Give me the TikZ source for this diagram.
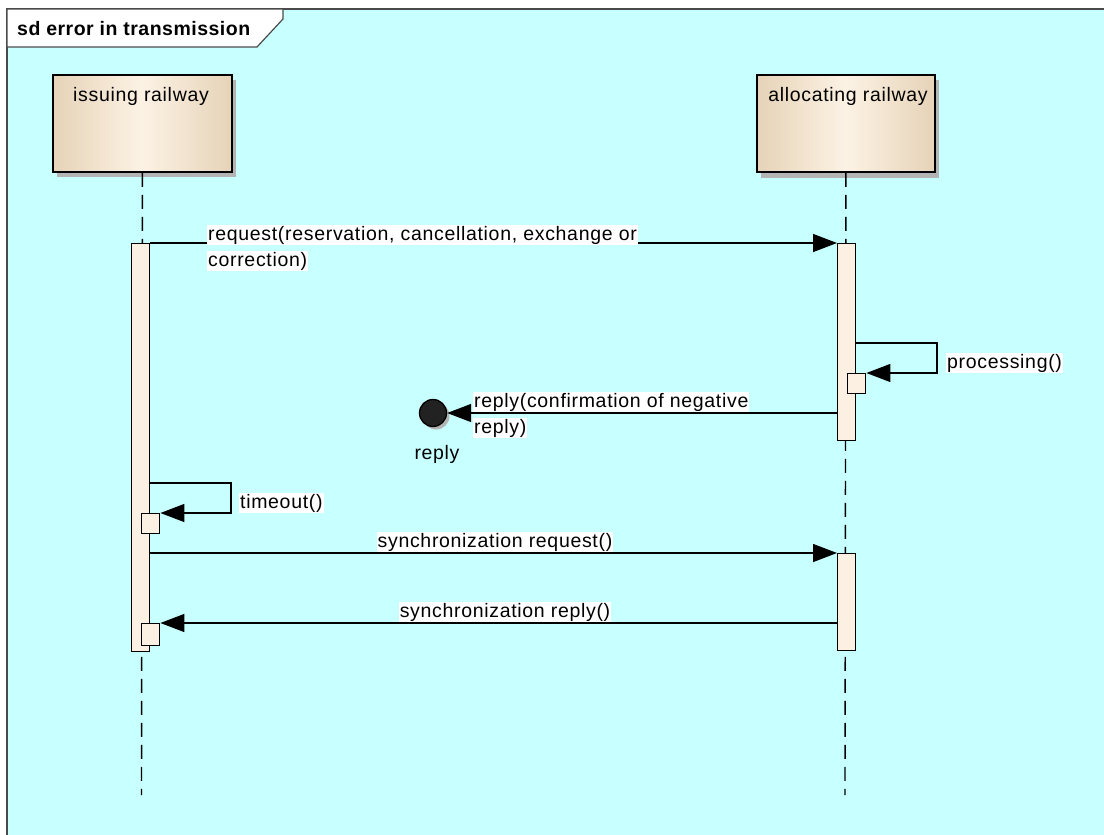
\documentclass[tikz,border=0pt]{standalone}
\usepackage{fontspec}
\setmainfont{Liberation Sans}[LetterSpace=3.5]
\newfontfamily\titlefont{Liberation Sans}[LetterSpace=2.5]
\usetikzlibrary{arrows.meta}
\definecolor{bg}{HTML}{C8FFFF}
\definecolor{frm}{HTML}{4A4A4A}
\definecolor{boxedge}{HTML}{E6D3B8}
\definecolor{boxmid}{HTML}{FCF2E4}
\definecolor{act}{HTML}{FCF0E2}
\definecolor{shd}{HTML}{B4B4B4}
\definecolor{dot}{HTML}{222222}
\begin{document}
\begin{tikzpicture}[x=1pt,y=-1pt,
  txt/.style={font=\fontsize{19.5}{24}\selectfont, inner sep=1pt},
  lbl/.style={txt, fill=white, anchor=base west},
  actbar/.style={draw=black, line width=1.4pt, fill=act, rectangle, inner sep=0pt, anchor=north west},
  msg/.style={line width=1.4pt, -{Triangle[length=24pt,width=18pt]}},
  lifeline/.style={line width=1.4pt, dash pattern=on 14pt off 8pt},
  header/.style={draw=black, line width=1.8pt, left color=boxedge, right color=boxedge, middle color=boxmid, inner sep=0pt, minimum height=97pt, anchor=north west}
]
\useasboundingbox (0,0) rectangle (1104,835);
\fill[white] (0,0) rectangle (1104,835);
\fill[bg] (7,9) rectangle (1104,835);
\draw[frm, line width=1.5pt] (7,840) -- (7,9) -- (1110,9);
% title tab
\draw[frm, line width=1.2pt, fill=white] (7,9) -- (283,9) -- (283,19) -- (257,47) -- (7,47) -- cycle;
\node[font=\fontsize{19.5}{24}\titlefont\bfseries, inner sep=0pt, anchor=base west] (title) at (17,35) {sd error in transmission};

% shadows of the lifeline heads
\fill[shd] (57,80) rectangle (236,177);
\fill[shd] (761,80) rectangle (939,178);
% lifeline heads
\node[header, minimum width=179pt] (iss) at (52,74) {};
\node[header, minimum width=178pt] (all) at (756,74) {};
\node[txt] (issT) at (141,96) {issuing railway};
\node[txt] (allT) at (848,96) {allocating railway};

% lifelines
\coordinate (issEnd) at (141.5,795);
\coordinate (allEnd) at (845,795);
\draw[lifeline] (iss.south) -- (issEnd);
\draw[lifeline] (all.south) -- (allEnd);

% activation bars
\node[actbar, minimum width=18pt, minimum height=408pt] (issA) at (131,243) {};
\node[actbar, minimum width=18pt, minimum height=197pt] (allA) at (837,243) {};
\node[actbar, minimum width=18pt, minimum height=97pt] (allB) at (837,553) {};
\node[actbar, minimum width=18pt, minimum height=20pt] (procB) at (847,373) {};
\node[actbar, minimum width=18pt, minimum height=20pt] (toB) at (141,513) {};
\node[actbar, minimum width=18pt, minimum height=22pt] (srB) at (141,623) {};

% lost message end point
\fill[shd] (436,416) circle (13.5);
\node[circle, draw=black, line width=1.3pt, fill=dot, minimum size=27pt, inner sep=0pt] (endpt) at (433,413) {};

% messages
\draw[msg] (issA.north east) -- (allA.north west);
\coordinate (p1) at (937,343);
\draw[msg] (allA.east |- p1) -- (p1) |- (procB.north east);
\draw[msg] (allA.west |- endpt) -- (endpt.east);
\coordinate (t1) at (231,483);
\draw[msg] (issA.east |- t1) -- (t1) |- (toB.north east);
\draw[msg] (issA.east |- allB.north) -- (allB.north west);
\draw[msg] (allB.west |- srB.north) -- (srB.north east);

% labels
\node[lbl] (m1a) at (207,240) {request(reservation, cancellation, exchange or};
\node[lbl] (m1b) at (207,266) {correction)};
\node[lbl] (m2) at (946,368) {processing()};
\node[lbl] (m3a) at (473,407) {reply(confirmation of negative};
\node[lbl] (m3b) at (473,433) {reply)};
\node[txt, anchor=base] (endT) at (437,459) {reply};
\node[lbl] (m4) at (239,508) {timeout()};
\node[lbl, anchor=base] (m5) at (495,547) {synchronization request()};
\node[lbl, anchor=base] (m6) at (505,617) {synchronization reply()};
\end{tikzpicture}
\end{document}
